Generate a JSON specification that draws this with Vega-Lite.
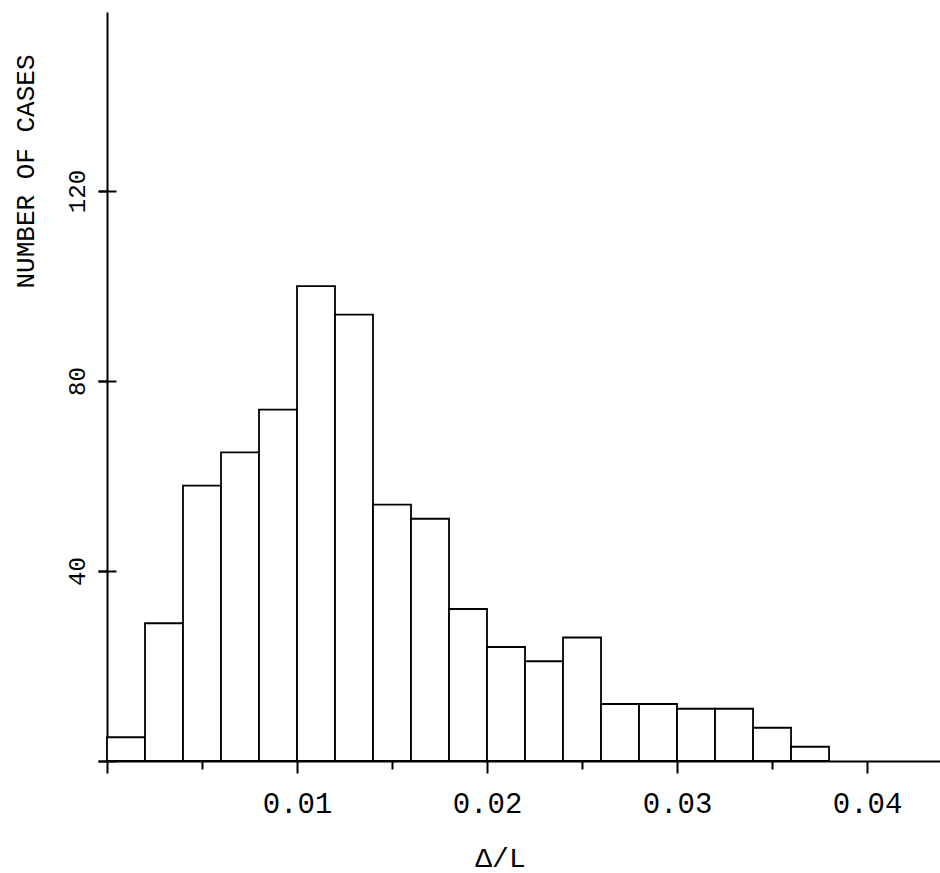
{
  "$schema": "https://vega.github.io/schema/vega-lite/v6.json",
  "width": 833,
  "height": 749,
  "autosize": "none",
  "padding": {"left": 107, "top": 12, "right": 0, "bottom": 112},
  "background": "white",
  "config": {
    "view": {"stroke": null},
    "axis": {
      "grid": false,
      "domainColor": "black",
      "domainWidth": 2,
      "tickColor": "black",
      "tickWidth": 2,
      "labelColor": "black",
      "titleColor": "black",
      "labelFont": "Liberation Mono",
      "titleFont": "Liberation Mono",
      "labelFontWeight": "normal",
      "titleFontWeight": "normal"
    }
  },
  "data": {
    "values": [
      {"lo": 0.000, "hi": 0.002, "n": 5},
      {"lo": 0.002, "hi": 0.004, "n": 29},
      {"lo": 0.004, "hi": 0.006, "n": 58},
      {"lo": 0.006, "hi": 0.008, "n": 65},
      {"lo": 0.008, "hi": 0.010, "n": 74},
      {"lo": 0.010, "hi": 0.012, "n": 100},
      {"lo": 0.012, "hi": 0.014, "n": 94},
      {"lo": 0.014, "hi": 0.016, "n": 54},
      {"lo": 0.016, "hi": 0.018, "n": 51},
      {"lo": 0.018, "hi": 0.020, "n": 32},
      {"lo": 0.020, "hi": 0.022, "n": 24},
      {"lo": 0.022, "hi": 0.024, "n": 21},
      {"lo": 0.024, "hi": 0.026, "n": 26},
      {"lo": 0.026, "hi": 0.028, "n": 12},
      {"lo": 0.028, "hi": 0.030, "n": 12},
      {"lo": 0.030, "hi": 0.032, "n": 11},
      {"lo": 0.032, "hi": 0.034, "n": 11},
      {"lo": 0.034, "hi": 0.036, "n": 7},
      {"lo": 0.036, "hi": 0.038, "n": 3}
    ]
  },
  "layer": [
    {
      "mark": {"type": "bar", "fill": "white", "stroke": "black", "strokeWidth": 1.8},
      "encoding": {
        "x": {
          "field": "lo",
          "type": "quantitative",
          "scale": {"domain": [0, 0.04384], "nice": false, "zero": false},
          "axis": {
            "orient": "bottom",
            "values": [0, 0.005, 0.01, 0.015, 0.02, 0.025, 0.03, 0.035, 0.04],
            "labelExpr": "datum.value == 0 || round(datum.value * 1000) % 10 == 5 ? '' : format(datum.value, '.2f')",
            "tickSize": {"condition": {"test": "round(datum.value * 1000) % 10 == 5", "value": 8}, "value": 12},
            "labelFontSize": 29,
            "labelBaseline": "alphabetic",
            "labelPadding": 39,
            "labelFlush": false,
            "labelOverlap": false,
            "title": "Δ/L",
            "titleFontSize": 28,
            "titleX": 393,
            "titleY": 105,
            "titleAlign": "center",
            "titleBaseline": "alphabetic"
          }
        },
        "x2": {"field": "hi"},
        "y": {
          "field": "n",
          "type": "quantitative",
          "scale": {"domain": [0, 157.7], "nice": false},
          "axis": {
            "orient": "left",
            "values": [0, 40, 80, 120],
            "labelExpr": "datum.value == 0 ? '' : datum.label",
            "tickSize": 9,
            "labelAngle": -90,
            "labelAlign": "center",
            "labelBaseline": "alphabetic",
            "labelPadding": 14,
            "labelFontSize": 24,
            "labelOverlap": false,
            "title": "NUMBER OF CASES",
            "titleFontSize": 26,
            "titleAngle": -90,
            "titleX": -74,
            "titleY": 159,
            "titleAlign": "center",
            "titleBaseline": "alphabetic"
          }
        },
        "y2": {"datum": 0}
      }
    },
    {
      "mark": {"type": "point", "opacity": 0},
      "encoding": {
        "y": {
          "field": "n",
          "type": "quantitative",
          "axis": {
            "orient": "left",
            "values": [0, 40, 80, 120],
            "offset": -9,
            "tickSize": 18,
            "labels": true,
            "labelOpacity": 0,
            "domain": true,
            "domainOpacity": 0,
            "title": " ",
            "titleOpacity": 0
          }
        }
      }
    }
  ],
  "resolve": {"scale": {"y": "shared"}, "axis": {"y": "independent"}}
}
